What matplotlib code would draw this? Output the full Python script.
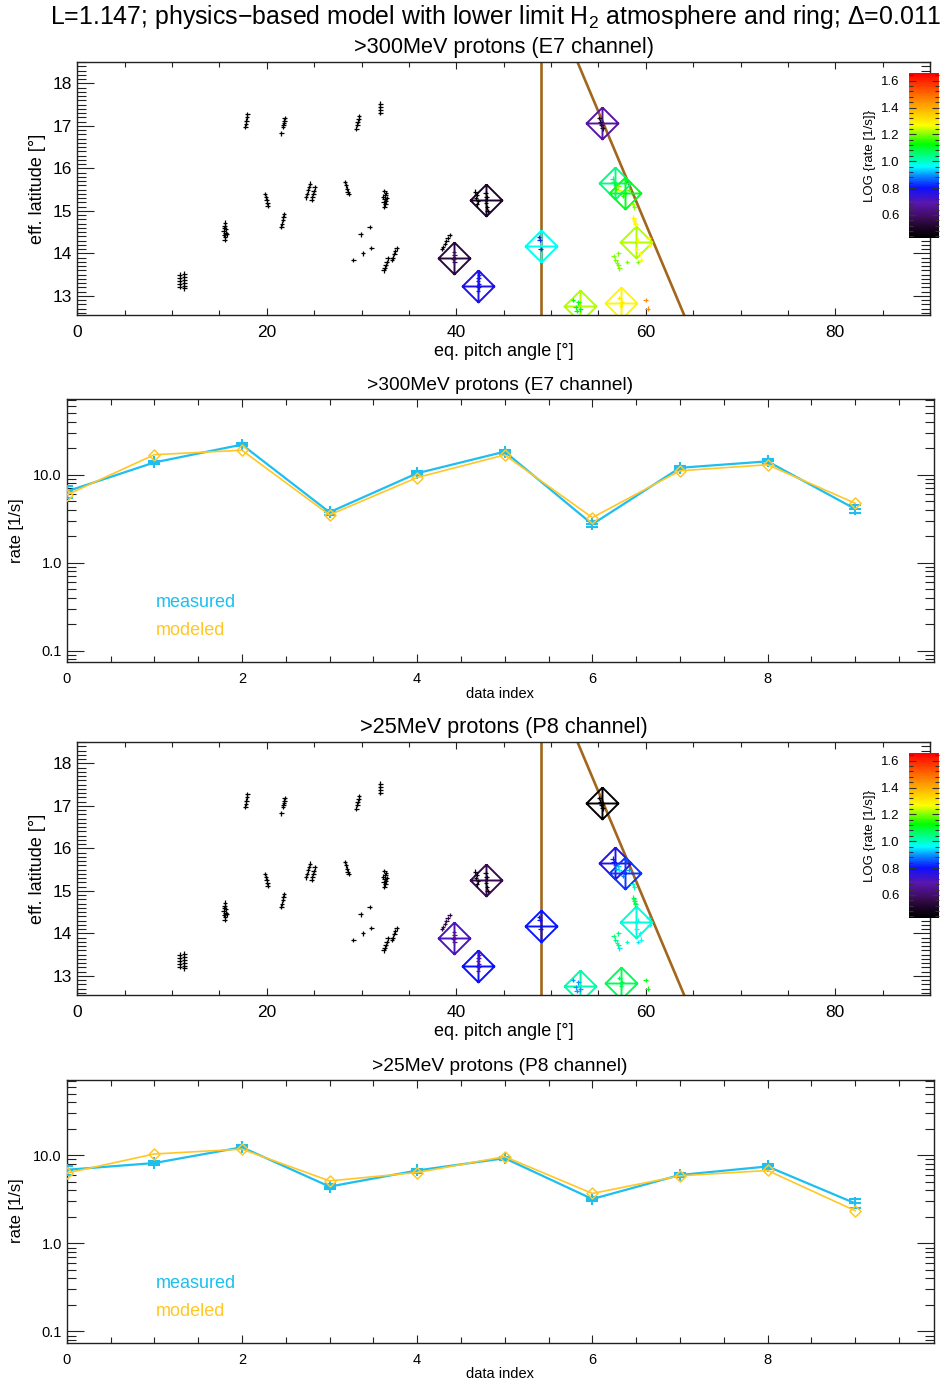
import numpy as np
import matplotlib
matplotlib.use("Agg")
import matplotlib.pyplot as plt
from matplotlib.path import Path
from matplotlib.colors import LinearSegmentedColormap, Normalize
from matplotlib.ticker import MultipleLocator, FixedLocator, FixedFormatter, LogLocator, NullFormatter
import matplotlib.cm as cm

plt.rcParams['font.family'] = ['Liberation Sans', 'DejaVu Sans']
plt.rcParams['mathtext.fontset'] = 'custom'
plt.rcParams['mathtext.rm'] = 'Liberation Sans'
plt.rcParams['mathtext.it'] = 'Liberation Sans'

# ---------------- data ----------------
title_text = "L=1.147; physics\u2212based model with lower limit H$_{\\mathrm{2}}$ atmosphere and ring; \u0394=0.011"
channel_titles = [">300MeV protons (E7 channel)", ">25MeV protons (P8 channel)"]

data_index = [0, 1, 2, 3, 4, 5, 6, 7, 8, 9]
e7_measured = [6.46, 13.8, 22.0, 3.75, 10.4, 18.3, 2.74, 12.0, 14.2, 4.09]
e7_err = [1.0, 0.6, 1.0, 0.25, 0.5, 1.0, 0.22, 0.6, 0.8, 0.4]
e7_modeled = [5.9, 16.9, 19.0, 3.5, 9.3, 16.8, 3.26, 11.1, 13.0, 4.75]
p8_measured = [6.87, 8.2, 12.4, 4.43, 6.75, 9.3, 3.2, 6.0, 7.5, 2.86]
p8_err = [0.8, 0.35, 0.6, 0.25, 0.35, 0.4, 0.2, 0.35, 0.45, 0.3]
p8_modeled = [6.3, 10.4, 11.8, 5.14, 6.4, 9.7, 3.7, 5.87, 6.75, 2.36]

# effective location of each data index (eq. pitch angle, eff. latitude)
diamond_pa = [42.31, 53.07, 57.42, 39.78, 48.92, 59.0, 43.12, 56.72, 57.81, 55.35]
diamond_lat = [13.235, 12.76, 12.84, 13.88, 14.18, 14.26, 15.245, 15.66, 15.41, 17.07]

# individual track points (eq. pitch angle, eff. latitude, log rate E7, log rate P8)
track_pa = [
    10.8, 10.8, 10.8, 10.8, 10.8, 11.3, 11.3, 11.3, 11.3, 11.3, 11.3,
    15.6, 15.55, 15.5, 15.7, 15.45, 15.65, 15.5, 15.75, 15.6, 15.55,
    17.95, 17.9, 17.85, 17.8, 17.75,
    19.8, 19.9, 20.0, 20.05, 20.1,
    21.9, 21.85, 21.8, 21.75, 21.7, 21.55,
    21.8, 21.75, 21.7, 21.6, 21.55,
    24.55, 24.45, 24.35, 24.25, 24.15,
    25.05, 24.95, 24.9, 24.8, 24.75,
    28.25, 28.35, 28.45, 28.55, 28.65,
    29.75, 29.7, 29.6, 29.55, 29.45,
    32.0, 32.0, 32.0, 32.0,
    32.4, 32.6, 32.5, 32.3, 32.7, 32.45, 32.6, 32.35, 32.5, 32.4,
    29.15, 29.9, 30.15, 30.85, 31.05,
    32.75, 32.65, 32.55, 32.45, 32.35,
    33.7, 33.55, 33.45, 33.3, 33.2,
    39.3, 39.1, 38.95, 38.8, 38.6, 38.5,
    39.75, 39.8, 39.7, 39.8,
    42.0, 42.15, 42.1, 42.3, 42.2, 43.1, 43.2, 43.15, 43.25, 43.3,
    42.35, 42.4, 42.35, 42.3, 42.4, 42.35, 42.3,
    48.75, 48.8, 48.9,
    55.1, 55.2, 55.3, 55.45,
    56.5, 56.6, 56.75, 56.9, 57.1, 57.2, 57.4, 57.6, 57.9, 58.2, 58.6, 58.8,
    58.7, 58.75, 58.8, 58.85, 58.9,
    59.2, 59.0, 59.4, 60.3, 60.4, 59.5,
    56.6, 56.8, 56.95, 57.1, 57.2, 57.1, 58.0, 59.2,
    52.3, 52.9, 52.6, 53.1, 52.7,
    57.2, 57.5, 57.4, 60.0, 60.2,
]
track_lat = [
    13.50, 13.43, 13.36, 13.29, 13.22, 13.52, 13.45, 13.38, 13.31, 13.24, 13.18,
    14.72, 14.65, 14.60, 14.57, 14.52, 14.48, 14.43, 14.45, 14.38, 14.32,
    17.27, 17.20, 17.12, 17.05, 16.98,
    15.40, 15.32, 15.25, 15.18, 15.12,
    17.18, 17.12, 17.07, 17.02, 16.97, 16.82,
    14.92, 14.85, 14.78, 14.70, 14.63,
    15.64, 15.56, 15.48, 15.40, 15.32,
    15.55, 15.47, 15.40, 15.32, 15.26,
    15.68, 15.60, 15.52, 15.45, 15.40,
    17.23, 17.17, 17.10, 17.03, 16.93,
    17.52, 17.45, 17.38, 17.30,
    15.47, 15.42, 15.37, 15.33, 15.30, 15.27, 15.22, 15.20, 15.15, 15.10,
    13.84, 14.45, 14.00, 14.62, 14.13,
    13.88, 13.80, 13.73, 13.66, 13.60,
    14.12, 14.05, 13.98, 13.90, 13.85,
    14.43, 14.36, 14.29, 14.22, 14.15, 14.10,
    14.03, 13.95, 13.87, 13.79,
    15.45, 15.38, 15.30, 15.22, 15.15, 15.42, 15.32, 15.18, 15.08, 15.00,
    13.56, 13.50, 13.43, 13.36, 13.28, 13.20, 13.12,
    14.38, 14.31, 14.10,
    17.18, 17.10, 17.02, 16.94,
    15.76, 15.68, 15.60, 15.52, 15.58, 15.50, 15.42, 15.35, 15.72, 15.50, 15.15, 15.08,
    14.84, 14.80, 14.76, 14.72, 14.68,
    14.30, 14.10, 14.00, 14.35, 14.20, 13.85,
    13.94, 13.85, 13.78, 13.72, 13.65, 14.00, 13.80, 13.80,
    12.90, 12.85, 12.73, 12.68, 12.64,
    12.95, 12.85, 12.75, 12.90, 12.70,
]
track_log_e7 = (
    [0.0] * 97
    + [0.58, 0.58, 0.58, 0.58]
    + [0.42] * 10
    + [0.78] * 7
    + [0.82] * 3
    + [0.52] * 4
    + [1.05, 1.08, 1.12, 1.15, 1.2, 1.25, 1.1, 1.15, 1.1, 1.18, 1.22, 1.2]
    + [1.28] * 5
    + [1.27] * 6
    + [1.2] * 8
    + [1.12] * 5
    + [1.3, 1.3, 1.3, 1.45, 1.45]
)
track_log_p8 = (
    [0.0] * 91
    + [0.55] * 6
    + [0.66] * 4
    + [0.47] * 10
    + [0.72] * 7
    + [0.8] * 3
    + [0.38] * 4
    + [0.78, 0.8, 0.85, 0.9, 0.92, 0.95, 0.82, 0.88, 0.85, 0.9, 1.0, 1.0]
    + [1.08] * 5
    + [0.97] * 6
    + [1.05, 1.05, 0.95, 1.05, 0.95, 1.05, 1.0, 0.95]
    + [0.9] * 5
    + [1.08, 1.08, 1.08, 1.12, 1.12]
)

# boundaries in (pitch angle, latitude) space
loss_cone_pa = 48.91
cutoff_lat = [12.55, 18.5]
cutoff_pa = [64.05, 52.79]

# colour scale of log rate
cbar_range = [0.43, 1.655]
cbar_ticks = [0.6, 0.8, 1.0, 1.2, 1.4, 1.6]

# ---------------- style ----------------
W, H = 946, 1384
CYAN = '#1cbff0'
GOLD = '#ffc726'
BROWN = '#a2661c'
cmap_vals = [0.43, 0.50, 0.58, 0.69, 0.80, 0.88, 0.96, 1.13, 1.27, 1.42, 1.655]
cmap_cols = ['#000000', '#1a0424', '#3e0c5c', '#5a16b0', '#0a10ff', '#0a78ff',
             '#00ffff', '#00ff00', '#ffff00', '#ffa000', '#ff0000']
pos = [(v - cmap_vals[0]) / (cmap_vals[-1] - cmap_vals[0]) for v in cmap_vals]
cmap = LinearSegmentedColormap.from_list('idlrainbow', list(zip(pos, cmap_cols)))
cmap.set_under('black')
norm = Normalize(cbar_range[0], cbar_range[1])

fig = plt.figure(figsize=(W / 100, H / 100), dpi=100)


def fr(x0, y0, x1, y1):
    # pixel box -> figure fraction rect
    return [x0 / W, 1 - y1 / H, (x1 - x0) / W, (y1 - y0) / H]


diamond_cross = Path([(0, 1), (1, 0), (0, -1), (-1, 0), (0, 1), (-1, 0), (1, 0), (0, -1), (0, 1)],
                     [Path.MOVETO, Path.LINETO, Path.LINETO, Path.LINETO, Path.LINETO,
                      Path.MOVETO, Path.LINETO, Path.MOVETO, Path.LINETO])
diamond = Path([(0, 1), (1, 0), (0, -1), (-1, 0), (0, 1)],
               [Path.MOVETO, Path.LINETO, Path.LINETO, Path.LINETO, Path.CLOSEPOLY])

FRAME = '#222222'


def style_frame(ax):
    for s in ax.spines.values():
        s.set_linewidth(1.0)
        s.set_color(FRAME)


def scatter_panel(top, title, modeled, track_vals):
    ax = fig.add_axes(fr(77.3, top, 930, top + 253))
    ax.set_xlim(0, 90)
    ax.set_ylim(12.55, 18.5)
    ax.axvline(loss_cone_pa, color=BROWN, lw=1.9, zorder=1)
    ax.plot(cutoff_pa, cutoff_lat, color=BROWN, lw=1.9, zorder=1)
    logm = np.log10(modeled)
    for p, l, v in zip(diamond_pa, diamond_lat, logm):
        ax.plot([p], [l], marker=diamond_cross, ms=23, mfc='none', mec=cmap(norm(v)),
                mew=1.4, ls='none', zorder=2)
    ax.scatter(track_pa, track_lat, c=track_vals, cmap=cmap, norm=norm, marker='+',
               s=11, linewidths=0.9, zorder=3)
    ax.xaxis.set_major_locator(MultipleLocator(20))
    ax.xaxis.set_minor_locator(MultipleLocator(5))
    ax.yaxis.set_major_locator(MultipleLocator(1))
    ax.yaxis.set_minor_locator(MultipleLocator(0.1))
    ax.tick_params(which='both', direction='in', top=True, right=True, width=0.8, color=FRAME)
    ax.tick_params(axis='y', which='major', length=12, pad=4, labelsize=12.5)
    ax.tick_params(axis='y', which='minor', length=6.2)
    ax.tick_params(axis='x', which='major', length=5, pad=7, labelsize=12.5)
    ax.tick_params(axis='x', which='minor', length=3.6)
    style_frame(ax)
    fig.text(503.6 / W, 1 - (top - 15) / H, title, ha='center', va='center', fontsize=15.6)
    fig.text(37 / W, 1 - (top + 127) / H, 'eff. latitude [\u00b0]', rotation=90,
             ha='center', va='center', fontsize=13)
    fig.text(503.6 / W, 1 - (top + 290) / H, 'eq. pitch angle [\u00b0]',
             ha='center', va='center', fontsize=13)
    # colour bar
    cax = fig.add_axes(fr(909.3, top + 11.3, 939, top + 175.7))
    sm = cm.ScalarMappable(norm=norm, cmap=cmap)
    cb = fig.colorbar(sm, cax=cax, orientation='vertical')
    cb.set_ticks(cbar_ticks)
    cb.ax.yaxis.set_minor_locator(MultipleLocator(0.04))
    cb.ax.yaxis.set_ticks_position('both')
    cb.ax.yaxis.set_label_position('left')
    cb.ax.tick_params(which='both', direction='in', left=True, right=True,
                      labelleft=True, labelright=False, width=0.8, color='#333333')
    cb.ax.tick_params(which='major', length=5, labelsize=9.5, pad=7)
    cb.ax.tick_params(which='minor', length=3)
    cb.outline.set_linewidth(0)
    cb.set_label('LOG {rate [1/s]}', fontsize=9.5, labelpad=4)
    return ax


def rate_panel(top, title, measured, err, modeled):
    ax = fig.add_axes(fr(66.7, top, 934, top + 263))
    ax.set_yscale('log')
    ax.set_xlim(0, 9.9)
    ax.set_ylim(0.074, 72)
    ax.errorbar(data_index, measured, yerr=err, fmt='+-', color=CYAN, ms=9, mew=1.5,
                lw=1.6, elinewidth=1.4, capsize=4, capthick=1.4, zorder=3)
    ax.plot(data_index, modeled, marker=diamond, ms=8, mfc='none', mec=GOLD, mew=1.1,
            color=GOLD, lw=1.2, zorder=4)
    ax.text(1.02, 0.35, 'measured', color=CYAN, fontsize=13, va='center', ha='left')
    ax.text(1.02, 0.17, 'modeled', color=GOLD, fontsize=13, va='center', ha='left')
    ax.xaxis.set_major_locator(MultipleLocator(2))
    ax.xaxis.set_minor_locator(MultipleLocator(0.5))
    ax.yaxis.set_major_locator(FixedLocator([0.1, 1, 10]))
    ax.yaxis.set_major_formatter(FixedFormatter(['0.1', '1.0', '10.0']))
    ax.yaxis.set_minor_locator(LogLocator(base=10, subs=np.arange(2, 10), numticks=20))
    ax.yaxis.set_minor_formatter(NullFormatter())
    ax.tick_params(which='both', direction='in', top=True, right=True, width=0.8, color=FRAME)
    ax.tick_params(axis='y', which='major', length=12, pad=3.5, labelsize=10.5)
    ax.tick_params(axis='y', which='minor', length=6.7)
    ax.tick_params(axis='x', which='major', length=5.5, pad=7, labelsize=10.5)
    ax.tick_params(axis='x', which='minor', length=4)
    style_frame(ax)
    fig.text(500 / W, 1 - (top - 13.5) / H, title, ha='center', va='center', fontsize=13.8)
    fig.text(17 / W, 1 - (top + 131) / H, 'rate [1/s]', rotation=90,
             ha='center', va='center', fontsize=12)
    fig.text(500 / W, 1 - (top + 294.5) / H, 'data index', ha='center', va='center', fontsize=10.5)
    return ax


fig.text(496 / W, 1 - 17 / H, title_text, ha='center', va='center', fontsize=17.9)
scatter_panel(62, channel_titles[0], e7_modeled, track_log_e7)
rate_panel(399.3, channel_titles[0], e7_measured, e7_err, e7_modeled)
scatter_panel(742, channel_titles[1], p8_modeled, track_log_p8)
rate_panel(1080, channel_titles[1], p8_measured, p8_err, p8_modeled)

fig.savefig('out.png', dpi=100)
